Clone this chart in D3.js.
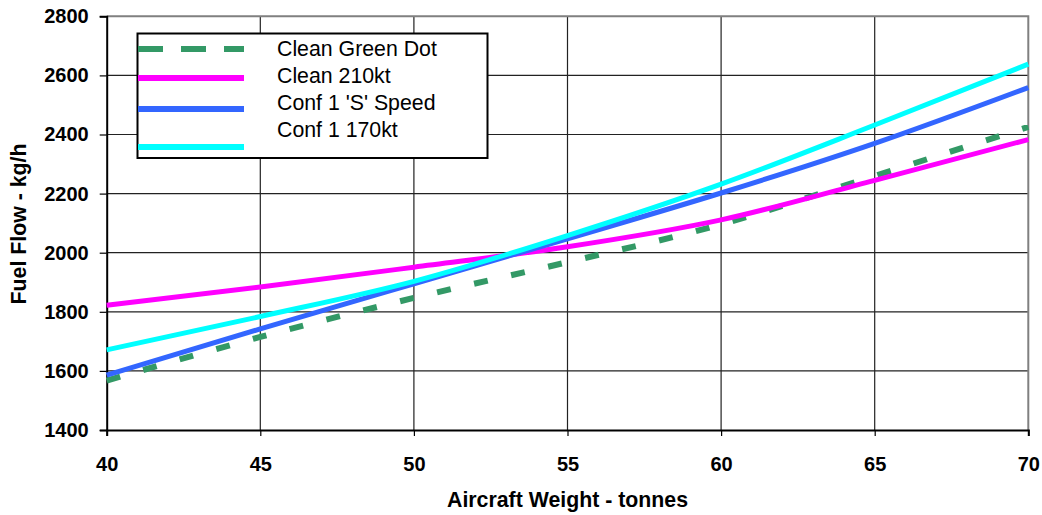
<!DOCTYPE html>
<html>
<head>
<meta charset="utf-8">
<script src="https://cdn.jsdelivr.net/npm/d3@7"></script>
<style>
  body { margin: 0; background: #fff; }
  text { font-family: "Liberation Sans", Arial, sans-serif; }
</style>
</head>
<body>
<div id="chart"></div>
<script>
// aircraft weight in tonnes
var weights = [40, 45, 50, 55, 60, 65, 70];
// fuel flow in kg/h
var cleanGreenDot = [1567, 1715, 1847, 1968, 2096, 2260, 2426];
var clean210 = [1822, 1884, 1951, 2020, 2111, 2245, 2383];
var conf1S = [1586, 1742, 1895, 2047, 2202, 2370, 2559];
var conf1_170 = [1671, 1784, 1903, 2058, 2232, 2432, 2638];
var seriesNames = ["Clean Green Dot", "Clean 210kt", "Conf 1 'S' Speed", "Conf 1 170kt"];
var xTicks = [40, 45, 50, 55, 60, 65, 70];
var yTicks = [1400, 1600, 1800, 2000, 2200, 2400, 2600, 2800];

(function fuelChart(){
    var margin = {top: 16.3, left: 106.7},
        width = 921.6,
        height = 413.7;

    var series = [
        {name: seriesNames[0], values: cleanGreenDot, color: "#339966", width: 6, dash: "14,24", legendDash: "25,18", legendY: 49},
        {name: seriesNames[1], values: clean210, color: "#ff00ff", width: 5, dash: null, legendY: 78},
        {name: seriesNames[2], values: conf1S, color: "#3366ff", width: 5, dash: null, legendY: 109},
        {name: seriesNames[3], values: conf1_170, color: "#00ffff", width: 5, dash: null, legendY: 147}
    ];

    var xScale = d3.scaleLinear().domain([40, 70]).range([0, width]),
        yScale = d3.scaleLinear().domain([1400, 2800]).range([height, 0]);

    var svg = d3.select("#chart").append("svg")
        .attr("width", 1042)
        .attr("height", 515);

    var g = svg.append("g")
        .attr("transform", "translate(" + margin.left + "," + margin.top + ")");

    // grid
    g.selectAll(".hgrid")
        .data(yTicks.slice(1, -1))
      .enter().append("line")
        .attr("class", "hgrid")
        .attr("x1", 0).attr("x2", width)
        .attr("y1", function(d){ return yScale(d); })
        .attr("y2", function(d){ return yScale(d); })
        .style("stroke", "#222").style("stroke-width", 1.2);

    g.selectAll(".vgrid")
        .data(xTicks.slice(1, -1))
      .enter().append("line")
        .attr("class", "vgrid")
        .attr("y1", 0).attr("y2", height)
        .attr("x1", function(d){ return xScale(d); })
        .attr("x2", function(d){ return xScale(d); })
        .style("stroke", "#222").style("stroke-width", 1.2);

    // top and right frame
    g.append("path")
        .attr("d", "M0,0H" + width + "V" + height)
        .style("fill", "none").style("stroke", "#808080").style("stroke-width", 2);

    // axes
    var xAxis = d3.axisBottom(xScale).tickValues(xTicks).tickSize(6).tickPadding(21).tickFormat(d3.format("d"));
    var yAxis = d3.axisLeft(yScale).tickValues(yTicks).tickSize(7).tickPadding(11).tickFormat(d3.format("d"));

    var gx = g.append("g")
        .attr("transform", "translate(0," + height + ")")
        .call(xAxis);
    var gy = g.append("g").call(yAxis);

    [gx, gy].forEach(function(a){
        a.select(".domain").style("stroke", "#000").style("stroke-width", 2);
        a.selectAll(".tick line").style("stroke", "#000").style("stroke-width", 1.2);
        a.selectAll(".tick text")
            .style("font-size", "20px")
            .style("font-weight", "bold")
            .style("fill", "#000");
    });

    // lines
    var line = d3.line()
        .x(function(d, i){ return xScale(weights[i]); })
        .y(function(d){ return yScale(d); })
        .curve(d3.curveMonotoneX);

    series.forEach(function(s){
        g.append("path")
            .attr("d", line(s.values))
            .style("fill", "none")
            .style("stroke", s.color)
            .style("stroke-width", s.width)
            .style("stroke-dasharray", s.dash);
    });

    // axis titles
    svg.append("text")
        .attr("x", margin.left + width / 2)
        .attr("y", 507)
        .style("text-anchor", "middle")
        .style("font-size", "21.3px")
        .style("font-weight", "bold")
        .text("Aircraft Weight - tonnes");

    svg.append("text")
        .attr("transform", "translate(26,224) rotate(-90)")
        .style("text-anchor", "middle")
        .style("font-size", "21.3px")
        .style("font-weight", "bold")
        .text("Fuel Flow - kg/h");

    // legend
    var legend = svg.append("g");
    legend.append("rect")
        .attr("x", 137.5).attr("y", 33.5)
        .attr("width", 350).attr("height", 124.5)
        .style("fill", "#fff").style("stroke", "#000").style("stroke-width", 2);

    series.forEach(function(s, i){
        legend.append("line")
            .attr("x1", 138).attr("x2", 244)
            .attr("y1", s.legendY).attr("y2", s.legendY)
            .style("stroke", s.color)
            .style("stroke-width", 6)
            .style("stroke-dasharray", s.legendDash || null);
        legend.append("text")
            .attr("x", 277)
            .attr("y", 56 + i * 27)
            .style("font-size", "21.3px")
            .text(s.name);
    });
}());
</script>
</body>
</html>
